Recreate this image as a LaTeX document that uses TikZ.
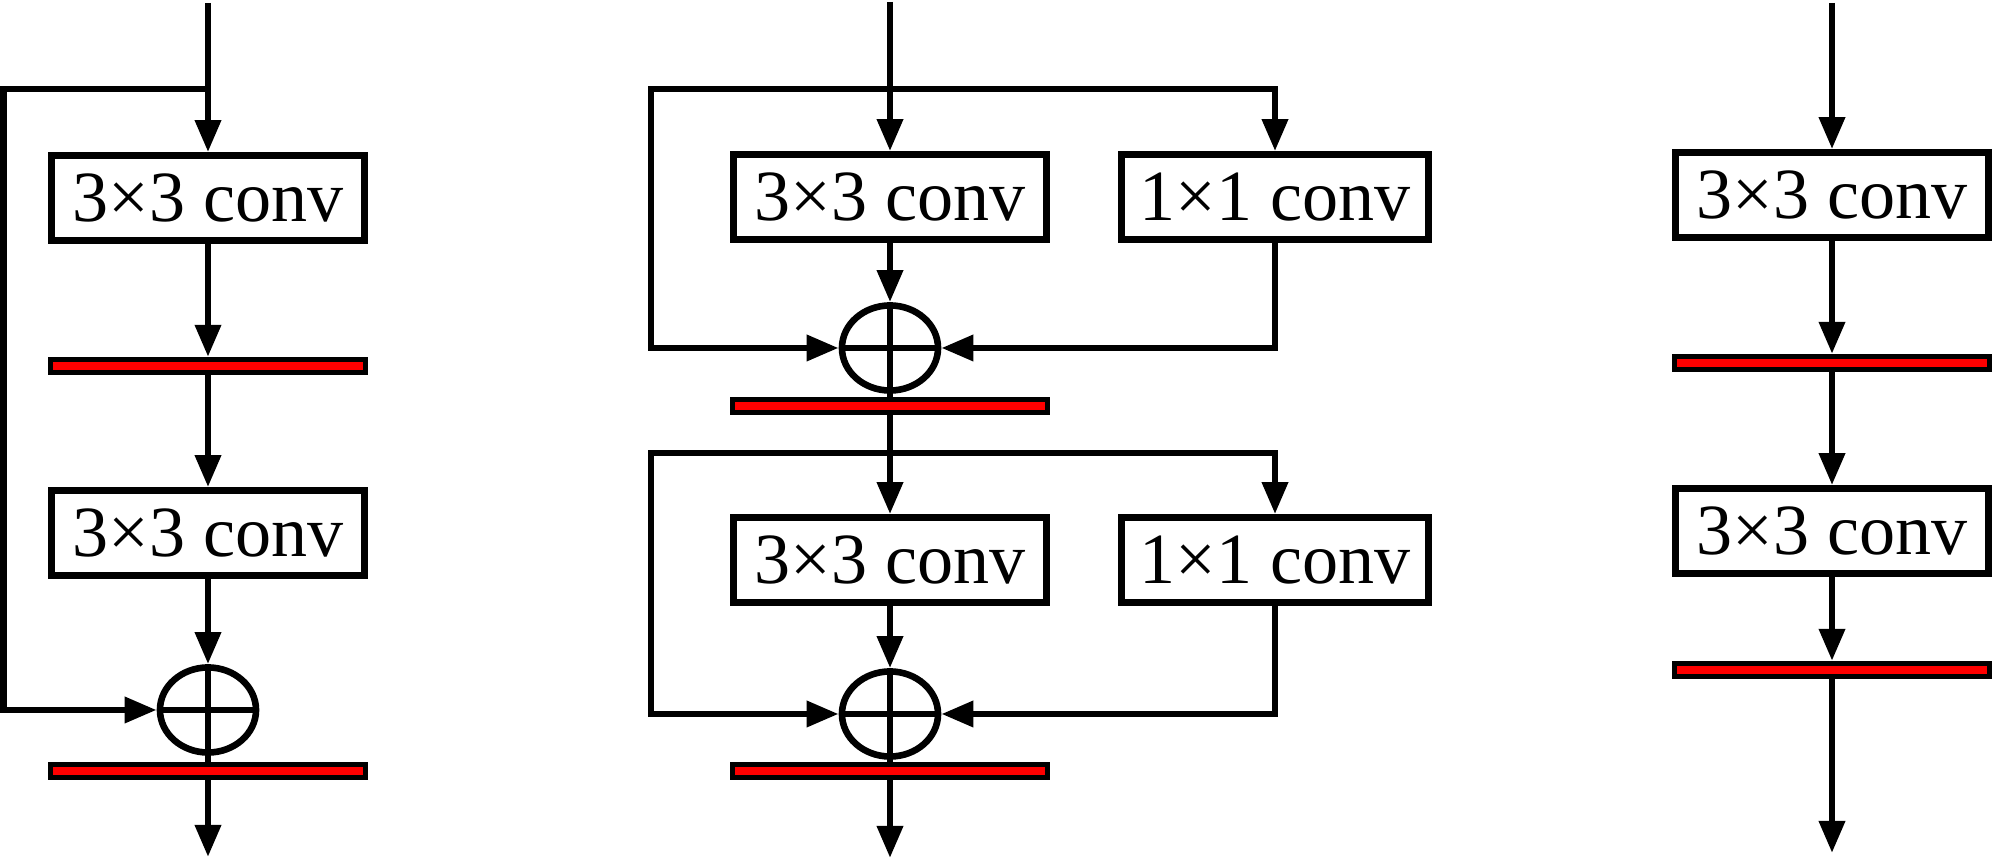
\documentclass[tikz,border=0pt]{standalone}
\usepackage{fontspec}
\setmainfont{Liberation Serif}
\usetikzlibrary{arrows.meta,shapes.geometric}
\begin{document}
\begin{tikzpicture}[x=0.01cm,y=-0.01cm, line width=0.066cm,
  conv/.style={draw, rectangle, fill=white, minimum width=3.13cm, minimum height=0.85cm, inner sep=0pt, font=\fontsize{20.5pt}{24pt}\selectfont},
  convs/.style={conv, minimum width=3.07cm},
  bnbar/.style={draw, rectangle, fill=red, line width=0.047cm, minimum width=3.15cm, minimum height=0.135cm, inner sep=0pt},
  addop/.style={draw, ellipse, minimum width=0.96cm, minimum height=0.85cm, inner sep=0pt},
  arr/.style={-{Triangle[length=0.32cm,width=0.25cm]}},
]
\useasboundingbox (0,0) rectangle (1999,862);

% ---------- left column ----------
\node[conv] (a1) at (208,198) {3×3 conv};
\node[bnbar] (ab1) at (208,366) {};
\node[conv] (a2) at (208,533) {3×3 conv};
\node[addop] (aadd) at (208,710) {};
\node[bnbar] (ab2) at (208,771) {};
\coordinate (ain) at (208,3);
\coordinate (aj) at (208,89);
\coordinate (al) at (3.3,89);
\coordinate (aout) at (208,857);
\draw[arr] (ain) -- (a1.north);
\draw[arr] (a1.south) -- (ab1.north);
\draw[arr] (ab1.south) -- (a2.north);
\draw[arr] (a2.south) -- (aadd.north);
\draw (aadd.north) -- (aadd.south);
\draw (aadd.west) -- (aadd.east);
\draw (aadd.south) -- (ab2.north);
\draw[arr] (ab2.south) -- (aout);
\draw[arr] (aj) -- (al) |- (aadd.west);

% ---------- middle column ----------
\node[conv] (b1) at (890,197) {3×3 conv};
\node[convs] (c1) at (1275,197) {1×1 conv};
\node[addop] (badd1) at (890,348) {};
\node[bnbar] (bb1) at (890,406) {};
\node[conv] (b2) at (890,560) {3×3 conv};
\node[convs] (c2) at (1275,560) {1×1 conv};
\node[addop] (badd2) at (890,714) {};
\node[bnbar] (bb2) at (890,771) {};
\coordinate (bin) at (890,2);
\coordinate (bj1) at (890,89);
\coordinate (bl1) at (651,89);
\coordinate (bj2) at (890,453);
\coordinate (bl2) at (651,453);
\coordinate (bout) at (890,858);
\draw[arr] (bin) -- (b1.north);
\draw[arr] (bj1) -| (c1.north);
\draw[arr] (bj1) -- (bl1) |- (badd1.west);
\draw[arr] (c1.south) |- (badd1.east);
\draw[arr] (b1.south) -- (badd1.north);
\draw (badd1.north) -- (badd1.south);
\draw (badd1.west) -- (badd1.east);
\draw (badd1.south) -- (bb1.north);
\draw[arr] (bb1.south) -- (b2.north);
\draw[arr] (bj2) -| (c2.north);
\draw[arr] (bj2) -- (bl2) |- (badd2.west);
\draw[arr] (c2.south) |- (badd2.east);
\draw[arr] (b2.south) -- (badd2.north);
\draw (badd2.north) -- (badd2.south);
\draw (badd2.west) -- (badd2.east);
\draw (badd2.south) -- (bb2.north);
\draw[arr] (bb2.south) -- (bout);

% ---------- right column ----------
\node[conv] (r1) at (1832,195) {3×3 conv};
\node[bnbar] (rb1) at (1832,363) {};
\node[conv] (r2) at (1832,531) {3×3 conv};
\node[bnbar] (rb2) at (1832,670) {};
\coordinate (rin) at (1832,3);
\coordinate (rout) at (1832,853);
\draw[arr] (rin) -- (r1.north);
\draw[arr] (r1.south) -- (rb1.north);
\draw[arr] (rb1.south) -- (r2.north);
\draw[arr] (r2.south) -- (rb2.north);
\draw[arr] (rb2.south) -- (rout);
\end{tikzpicture}
\end{document}
